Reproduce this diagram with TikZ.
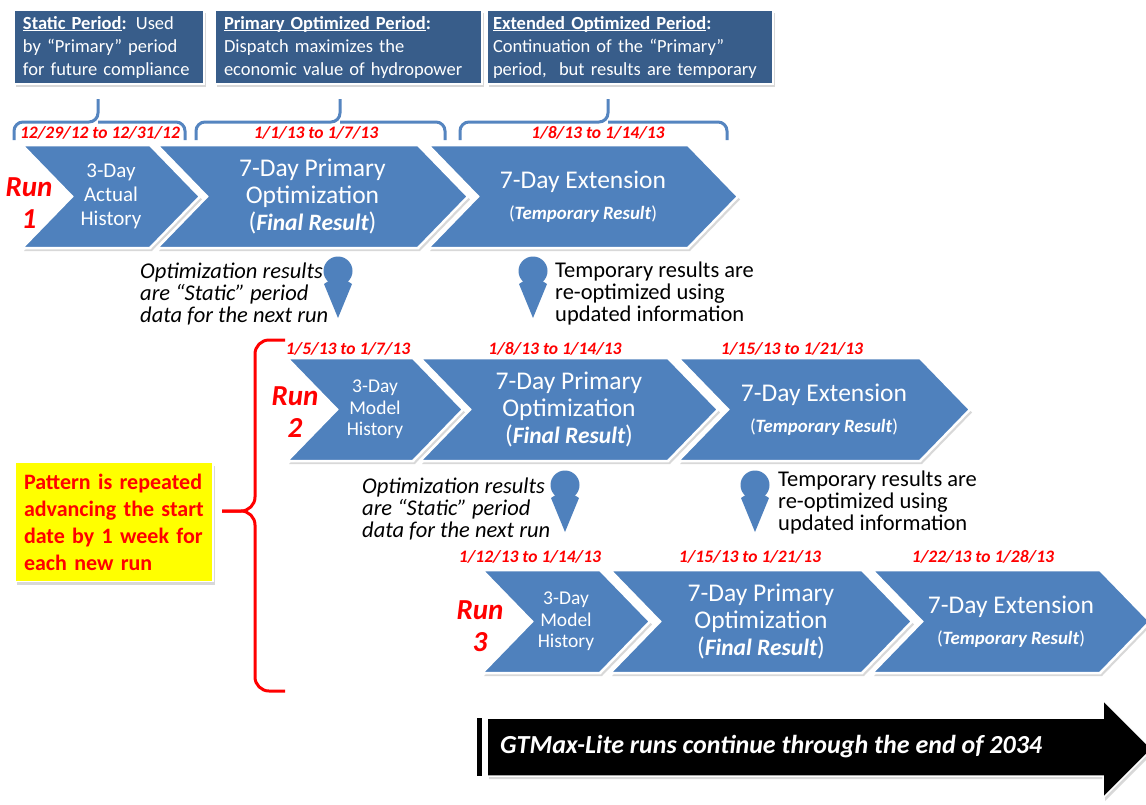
\documentclass[tikz,border=0pt]{standalone}
\usepackage{fontspec}
\setmainfont{Carlito}
\usetikzlibrary{shadows}
\definecolor{chevblue}{HTML}{4F81BD}
\definecolor{boxblue}{HTML}{385D8A}
\definecolor{brblue}{HTML}{5585C0}
\definecolor{dred}{HTML}{FF0000}
\definecolor{hlyellow}{HTML}{FFFF00}
\newcommand\ulx[1]{\setbox0\hbox{#1}\rlap{\rule[-2.2pt]{\wd0}{0.9pt}}\box0}
\newcommand\fs[2]{\fontsize{#1}{#2}\selectfont}
\newcommand\nohyph{\hyphenpenalty=10000\relax}
% name, L, R, top, bottom, font, text
\newcommand\mychev[7]{%
  \draw[chev] (#2,#4) -- (#3,#4) -- ({#3+50},{(#4+#5)/2}) -- (#3,#5) -- (#2,#5) -- ({#2+50},{(#4+#5)/2}) -- cycle;
  \node[chevtext,font=#6] (#1) at ({(#2+#3+50)/2},{(#4+#5)/2}) {#7};}
% name, cx, cy
\newcommand\mypin[3]{%
  \fill[chevblue] ({#2-14},{#3+13}) -- (#2,{#3+4}) -- ({#2+14},{#3+13}) -- (#2,{#3+47}) -- cycle;
  \node[circle, fill=chevblue, minimum size=29pt, inner sep=0pt] (#1) at (#2,#3) {};}
\begin{document}
\begin{tikzpicture}[x=1pt,y=-1pt,
  chev/.style={fill=chevblue, draw=white, line width=2.5pt, drop shadow={shadow xshift=2pt,shadow yshift=-3pt,opacity=0.3}},
  chevtext/.style={text=white, align=center, inner sep=0pt},
  datelbl/.style={text=dred, font=\fs{17.5}{20}\bfseries\itshape, inner sep=0pt},
  runlbl/.style={text=dred, font=\fs{29}{32}\bfseries\itshape, align=center, inner sep=0pt},
  topbox/.style={fill=boxblue, draw=white, line width=1.5pt, text=white, align=left, font=\fs{18.5}{23}, inner ysep=0pt, minimum height=74pt, drop shadow={shadow xshift=2pt,shadow yshift=-3pt,opacity=0.3}},
  brace/.style={draw=brblue, line width=3pt, rounded corners=9pt},
  rbrace/.style={draw=dred, line width=3pt, rounded corners=14pt},
  note/.style={align=left, font=\fs{22.5}{22}, inner sep=0pt, anchor=west},
]
\useasboundingbox (0,0) rectangle (1146,804);
\fill[white] (0,0) rectangle (1146,804);
\clip (0,0) rectangle (1146,804);

% top boxes
\node[topbox, text width=172pt, inner xsep=9pt] (b1) at (109,47) {\nohyph\textbf{\ulx{Static Period}:} Used\\by “Primary” period\\for future compliance};
\node[topbox, text width=249pt, inner xsep=9pt] (b2) at (348.5,47) {\nohyph\textbf{\ulx{Primary Optimized Period}:}\\Dispatch maximizes the\\economic value of hydropower};
\node[topbox, text width=274pt, inner xsep=6pt] (b3) at (630,47) {\nohyph\textbf{\ulx{Extended Optimized Period}:}\\Continuation of the “Primary”\\period,\ \ but results are temporary};

% braces
\draw[brace] (14,140) -- (14,122) -- (98,122) -- (98,99);
\draw[brace] (185,140) -- (185,122) -- (98,122);
\draw[brace] (196,140) -- (196,122) -- (340,122) -- (340,99);
\draw[brace] (445,140) -- (445,122) -- (340,122);
\draw[brace] (460,140) -- (460,122) -- (608,122) -- (608,99);
\draw[brace] (727,140) -- (727,122) -- (608,122);

% run 1
\mychev{c11}{22}{150}{145}{248}{\fs{21}{24}}{3-Day\\Actual\\History}
\mychev{c12}{157}{418}{145}{248}{\fs{25.5}{27}}{7-Day Primary\\Optimization\\({\fs{23.5}{27}\bfseries\itshape Final Result})}
\mychev{c13}{428}{688}{145}{248}{\fs{25.5}{27}}{7-Day Extension\\[4pt]{\fs{18.8}{20}(\textbf{\textit{Temporary Result}})}}
\node[datelbl] (d11) at (100,133) {12/29/12 to 12/31/12};
\node[datelbl] (d12) at (316,133) {1/1/13 to 1/7/13};
\node[datelbl] (d13) at (598,133) {1/8/13 to 1/14/13};
\node[runlbl] (r1) at (29,203) {Run\\1};

% pins run1 -> run2
\mypin{p11}{338}{271}
\mypin{p12}{533}{271}
\node[note, font=\fs{22.5}{22}\itshape] (n11) at (140,294) {Optimization results\\are “Static” period\\data for the next run};
\node[note] (n12) at (555,293) {Temporary results are\\re-optimized using\\updated information};

% run 2
\mychev{c21}{287}{413}{358}{461}{\fs{19.5}{21.5}}{3-Day\\Model\\History}
\mychev{c22}{420}{668}{358}{461}{\fs{25.5}{27}}{7-Day Primary\\Optimization\\({\fs{23.5}{27}\bfseries\itshape Final Result})}
\mychev{c23}{678}{920}{358}{461}{\fs{25.5}{27}}{7-Day Extension\\[4pt]{\fs{18.8}{20}(\textbf{\textit{Temporary Result}})}}
\node[datelbl] (d21) at (348,349) {1/5/13 to 1/7/13};
\node[datelbl] (d22) at (555,349) {1/8/13 to 1/14/13};
\node[datelbl] (d23) at (792,349) {1/15/13 to 1/21/13};
\node[runlbl] (r2) at (295,412) {Run\\2};

% pins run2 -> run3
\mypin{p21}{565}{485}
\mypin{p22}{755}{485}
\node[note, font=\fs{22.5}{22}\itshape] (n21) at (362,509) {Optimization results\\are “Static” period\\data for the next run};
\node[note] (n22) at (778,502) {Temporary results are\\re-optimized using\\updated information};

% run 3
\mychev{c31}{482}{600}{570}{673}{\fs{19.5}{21.5}}{3-Day\\Model\\History}
\mychev{c32}{610}{862}{570}{673}{\fs{25.5}{27}}{7-Day Primary\\Optimization\\({\fs{23.5}{27}\bfseries\itshape Final Result})}
\mychev{c33}{872}{1100}{570}{673}{\fs{25.5}{27}}{7-Day Extension\\[4pt]{\fs{18.8}{20}(\textbf{\textit{Temporary Result}})}}
\node[datelbl] (d31) at (530,557) {1/12/13 to 1/14/13};
\node[datelbl] (d32) at (750,557) {1/15/13 to 1/21/13};
\node[datelbl] (d33) at (983,557) {1/22/13 to 1/28/13};
\node[runlbl] (r3) at (480,626) {Run\\3};

% red brace and yellow note
\draw[rbrace] (285,340) -- (255,340) -- (255,511) -- (222,511);
\draw[rbrace] (222,511) -- (255,511) -- (255,691) -- (285,691);
\node[fill=hlyellow, draw=white, line width=1.5pt, text=dred, align=left, font=\fs{22}{27}\bfseries,
      text width=180pt, inner xsep=9pt, minimum height=119pt, drop shadow={shadow xshift=2pt,shadow yshift=-3pt,opacity=0.3}]
      (pat) at (114,522) {Pattern is repeated\\advancing the start\\date by 1 week for\\each new run};

% bottom arrow
\fill[black] (477,718) rectangle (482,776);
\path[fill=black, draw=white, line width=1.5pt, drop shadow={shadow xshift=2pt,shadow yshift=-3pt,opacity=0.3}]
  (487,718) -- (1103,718) -- (1103,700) -- (1152,749) -- (1103,798) -- (1103,776) -- (487,776) -- cycle;
\node[anchor=west, text=white, font=\fs{26}{28}\bfseries\itshape, inner sep=0pt] (gt) at (500,747) {GTMax-Lite runs continue through the end of 2034};
\end{tikzpicture}
\end{document}
